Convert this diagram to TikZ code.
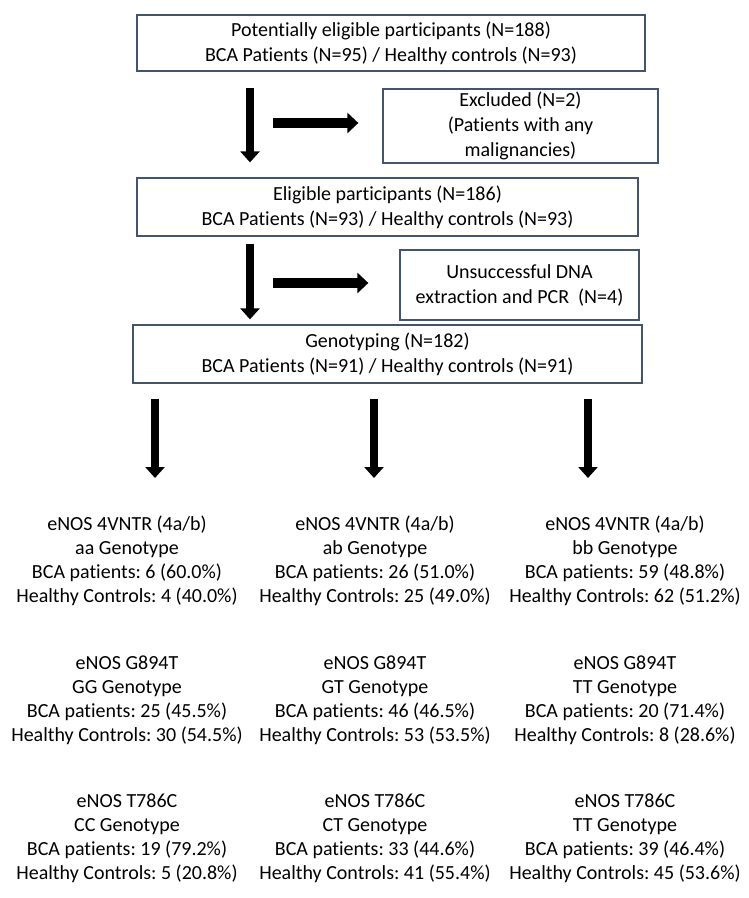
\documentclass[tikz,border=0pt]{standalone}
\usepackage{fontspec}
\setmainfont[Ligatures=CommonOff]{Carlito}
\usetikzlibrary{arrows.meta}
\definecolor{boxline}{RGB}{68,84,106}
\frenchspacing
\begin{document}
\begin{tikzpicture}[x=1pt,y=-1pt,
  box/.style={draw=boxline, line width=1.3pt, align=center, font=\fontsize{20}{25}\selectfont\frenchspacing, inner sep=0pt},
  grp/.style={align=center, font=\fontsize{20}{24}\selectfont\frenchspacing, inner sep=0pt},
  dn/.style={line width=8.5pt, -{Triangle[width=19pt,length=11pt]}},
  rt/.style={line width=10pt, -{Triangle[width=20pt,length=11pt]}}]
\useasboundingbox (0,0) rectangle (749,898);

\node[box, minimum width=508pt, minimum height=56pt] (top) at (391,43)
  {Potentially eligible participants (N=188)\\BCA Patients (N=95) / Healthy controls (N=93)};
\node[box, minimum width=275pt, minimum height=74pt] (excl) at (520.5,126)
  {Excluded (N=2)\\(Patients with any\\malignancies)};
\node[box, minimum width=501pt, minimum height=58pt] (elig) at (387.5,207)
  {Eligible participants (N=186)\\BCA Patients (N=93) / Healthy controls (N=93)};
\node[box, minimum width=239pt, minimum height=70pt] (uns) at (519.5,285)
  {Unsuccessful DNA\\extraction and PCR~~(N=4)};
\node[box, minimum width=509pt, minimum height=58pt] (geno) at (387.5,354)
  {Genotyping (N=182)\\BCA Patients (N=91) / Healthy controls (N=91)};

\coordinate (x1) at (250,0);
\coordinate (r1) at (273,123);
\coordinate (r2) at (273,283);
\coordinate (e1) at (155,478);
\coordinate (e2) at (374,478);
\coordinate (e3) at (588,478);

\draw[dn, shorten <=16pt, shorten >=15pt] (top.south -| x1) -- (elig.north -| x1);
\draw[rt, shorten >=24pt] (r1) -- (excl.west |- r1);
\draw[dn, shorten <=7pt, shorten >=5pt] (elig.south -| x1) -- (geno.north -| x1);
\draw[rt, shorten >=31pt] (r2) -- (uns.west |- r2);
\draw[dn, shorten <=15pt] (geno.south -| e1) -- (e1);
\draw[dn, shorten <=15pt] (geno.south -| e2) -- (e2);
\draw[dn, shorten <=15pt] (geno.south -| e3) -- (e3);

\node[grp] (g1) at (127,561) {eNOS 4VNTR (4a/b)\\aa Genotype\\BCA patients: 6 (60.0\%)\\Healthy Controls: 4 (40.0\%)};
\node[grp] (g2) at (375,561) {eNOS 4VNTR (4a/b)\\ab Genotype\\BCA patients: 26 (51.0\%)\\Healthy Controls: 25 (49.0\%)};
\node[grp] (g3) at (625,561) {eNOS 4VNTR (4a/b)\\bb Genotype\\BCA patients: 59 (48.8\%)\\Healthy Controls: 62 (51.2\%)};

\node[grp] (g4) at (127,700) {eNOS G894T\\GG Genotype\\BCA patients: 25 (45.5\%)\\Healthy Controls: 30 (54.5\%)};
\node[grp] (g5) at (375,700) {eNOS G894T\\GT Genotype\\BCA patients: 46 (46.5\%)\\Healthy Controls: 53 (53.5\%)};
\node[grp] (g6) at (625,700) {eNOS G894T\\TT Genotype\\BCA patients: 20 (71.4\%)\\Healthy Controls: 8 (28.6\%)};

\node[grp] (g7) at (127,838) {eNOS T786C\\CC Genotype\\BCA patients: 19 (79.2\%)\\Healthy Controls: 5 (20.8\%)};
\node[grp] (g8) at (375,838) {eNOS T786C\\CT Genotype\\BCA patients: 33 (44.6\%)\\Healthy Controls: 41 (55.4\%)};
\node[grp] (g9) at (625,838) {eNOS T786C\\TT Genotype\\BCA patients: 39 (46.4\%)\\Healthy Controls: 45 (53.6\%)};
\end{tikzpicture}
\end{document}
